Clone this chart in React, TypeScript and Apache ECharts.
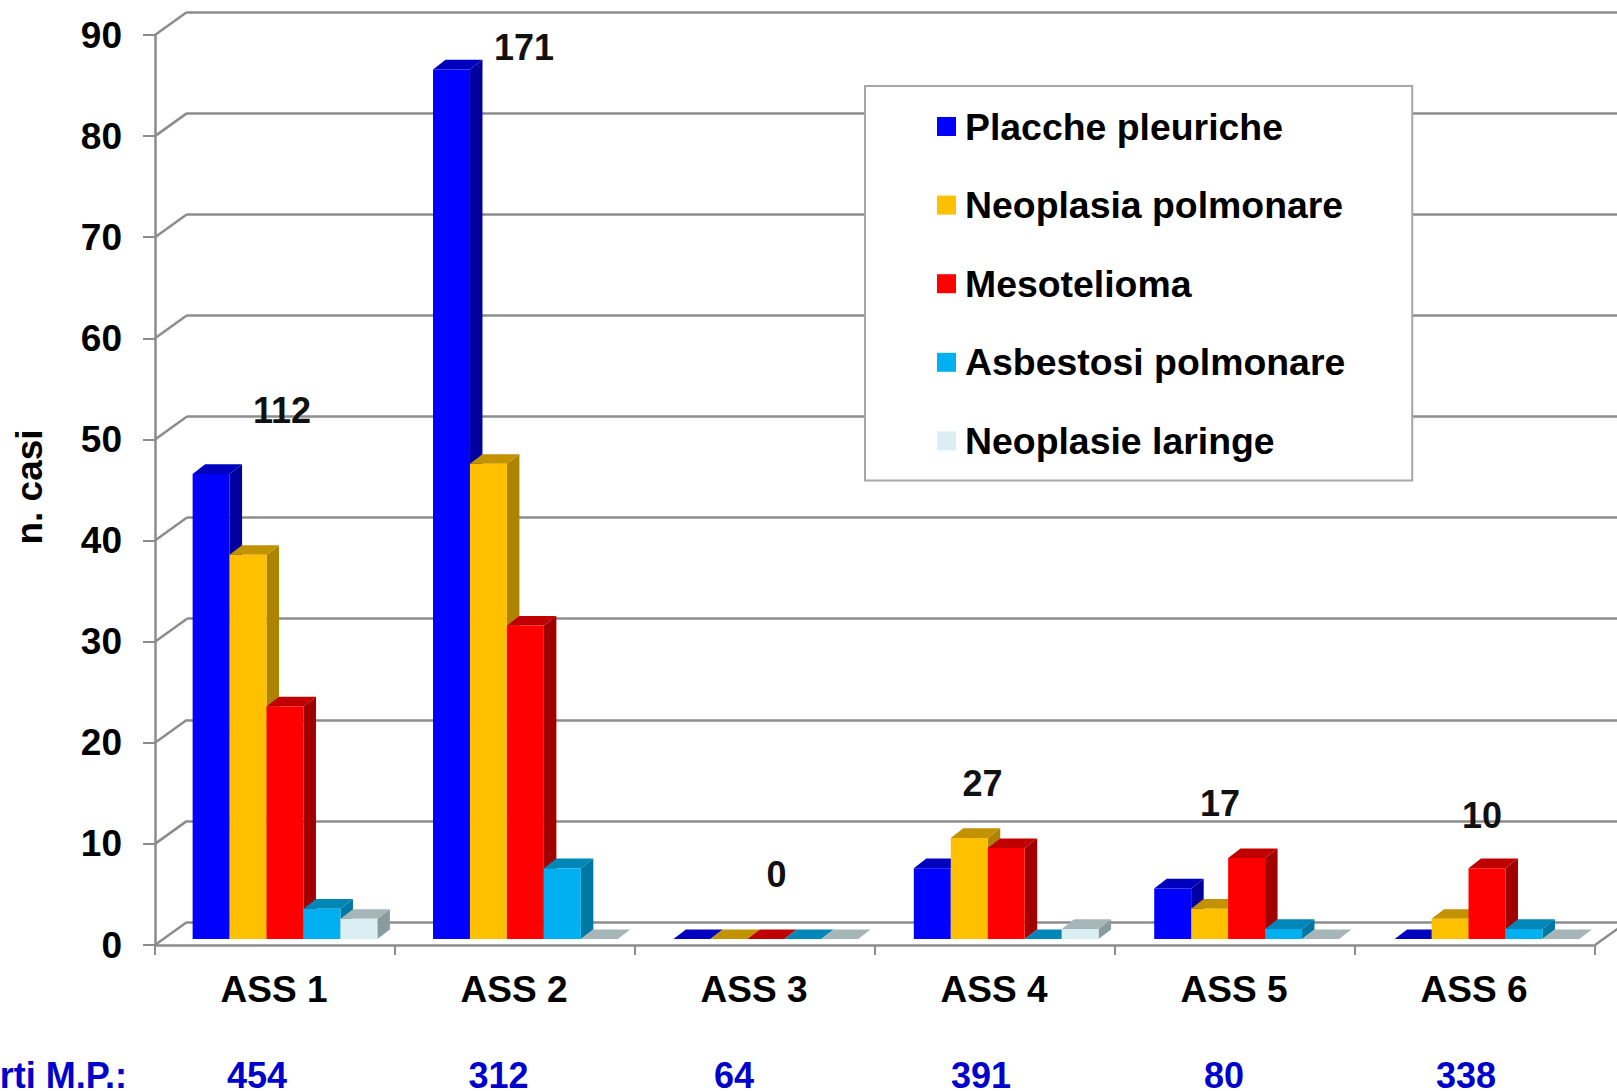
import React, { useEffect, useRef } from "react";
import * as echarts from "echarts";

const categories = ["ASS 1", "ASS 2", "ASS 3", "ASS 4", "ASS 5", "ASS 6"];
const placchePleuriche = [46, 86, 0, 7, 5, 0];
const neoplasiaPolmonare = [38, 47, 0, 10, 3, 2];
const mesotelioma = [23, 31, 0, 9, 8, 7];
const asbestosiPolmonare = [3, 7, 0, 0, 1, 1];
const neoplasieLaringe = [2, 0, 0, 1, 0, 0];
const totals = ["112", "171", "0", "27", "17", "10"];
const refertiLabel = "rti M.P.:";
const referti = ["454", "312", "64", "391", "80", "338"];
const yTicks = [0, 10, 20, 30, 40, 50, 60, 70, 80, 90];

const FONT = '"Liberation Sans", Arial, sans-serif';
const GRID = "#8c8c8c";

const seriesDefs = [
  { name: "Placche pleuriche", data: placchePleuriche, front: "#0000ff", side: "#00009f", top: "#0000bf" },
  { name: "Neoplasia polmonare", data: neoplasiaPolmonare, front: "#ffc000", side: "#ae8300", top: "#c29200" },
  { name: "Mesotelioma", data: mesotelioma, front: "#ff0000", side: "#a00000", top: "#c00000" },
  { name: "Asbestosi polmonare", data: asbestosiPolmonare, front: "#00b0f0", side: "#0078a4", top: "#0086b7" },
  { name: "Neoplasie laringe", data: neoplasieLaringe, front: "#daeef3", side: "#8a9a9d", top: "#a6b5b7" },
];

const DEPTH_X = 12.5;
const DEPTH_Y = 9.6;
const BAR_SHARE = 0.1537;

function bar3d(index: number, def: (typeof seriesDefs)[number]) {
  return (_: any, api: any) => {
    const cat = api.value(0);
    const val = api.value(1);
    const [cx, yTop] = api.coord([cat, val]);
    const [, yBase] = api.coord([cat, 0]);
    const w = api.size([1, 0])[0] * BAR_SHARE;
    const x0 = cx + (index - 2.5) * w;
    const x1 = x0 + w;
    const children: any[] = [];
    if (yBase - yTop > 0.01) {
      children.push({
        type: "polygon",
        shape: { points: [[x1, yTop], [x1 + DEPTH_X, yTop - DEPTH_Y], [x1 + DEPTH_X, yBase - DEPTH_Y], [x1, yBase]] },
        style: { fill: def.side },
      });
    }
    children.push({
      type: "polygon",
      shape: { points: [[x0, yTop], [x0 + DEPTH_X, yTop - DEPTH_Y], [x1 + DEPTH_X, yTop - DEPTH_Y], [x1, yTop]] },
      style: { fill: def.top },
    });
    if (yBase - yTop > 0.01) {
      children.push({
        type: "rect",
        shape: { x: x0, y: yTop, width: w, height: yBase - yTop },
        style: { fill: def.front },
      });
    }
    return { type: "group", children };
  };
}

function textEl(text: string, x: number, y: number, fill: string, align = "center") {
  return {
    type: "text",
    x,
    y,
    z: 20,
    style: { text, fill, font: `bold 36px ${FONT}`, lineHeight: 30, textAlign: align, textVerticalAlign: "middle" },
  };
}

const totalX = [282, 524, 776.5, 982.5, 1220, 1482];
const totalY = [410, 47, 874, 783, 803, 815];
const refertiX = [257, 498.5, 734, 981, 1224, 1466];

export default function App() {
  const ref = useRef<HTMLDivElement>(null);
  useEffect(() => {
    document.body.style.margin = "0";
    document.body.style.overflow = "hidden";
    const chart = echarts.init(ref.current!, undefined, { renderer: "svg" });
    const hiddenX = { type: "category", data: categories, show: false };
    const hiddenY = { type: "value", min: 0, max: 90, interval: 10, show: false };
    const option: any = {
      animation: false,
      backgroundColor: "#ffffff",
      grid: [
        { left: 155, top: 35, width: 1440, height: 910, outerBoundsMode: "none" },
        { left: 187, top: 12, width: 1440, height: 910, outerBoundsMode: "none" },
        { left: 164.8, top: 29, width: 1442.4, height: 910, outerBoundsMode: "none" },
      ],
      xAxis: [
        {
          type: "category",
          gridIndex: 0,
          data: categories,
          axisLine: { show: true, lineStyle: { color: GRID, width: 2.5 } },
          axisTick: { show: true, length: 10, interval: 0, lineStyle: { color: GRID, width: 2 } },
          axisLabel: {
            interval: 0,
            margin: 26,
            color: "#000",
            fontFamily: FONT,
            fontWeight: "bold",
            fontSize: 37,
            padding: [0, 2, 0, 0],
          },
        },
        { ...hiddenX, gridIndex: 1 },
        { ...hiddenX, gridIndex: 2 },
      ],
      yAxis: [
        {
          type: "value",
          gridIndex: 0,
          min: 0,
          max: 90,
          interval: 10,
          name: "n. casi",
          nameLocation: "middle",
          nameGap: 107,
          nameTextStyle: { color: "#000", fontFamily: FONT, fontWeight: "bold", fontSize: 37, padding: [0, 0, 0, 6] },
          axisLine: { show: true, lineStyle: { color: GRID, width: 2.5 } },
          axisTick: { show: true, length: 12, lineStyle: { color: GRID, width: 2 } },
          splitLine: { show: false },
          axisLabel: {
            margin: 33,
            color: "#000",
            fontFamily: FONT,
            fontWeight: "bold",
            fontSize: 37,
          },
        },
        {
          type: "value",
          gridIndex: 1,
          min: 0,
          max: 90,
          interval: 10,
          axisLine: { show: false },
          axisTick: { show: false },
          axisLabel: { show: false },
          splitLine: { show: true, lineStyle: { color: GRID, width: 2.5 } },
        },
        { ...hiddenY, gridIndex: 2 },
      ],
      legend: {
        show: true,
        orient: "vertical",
        left: 865,
        top: 86,
        padding: [22, 67, 21, 72],
        itemWidth: 19,
        itemHeight: 19,
        itemGap: 41.6,
        icon: "rect",
        backgroundColor: "#ffffff",
        borderColor: "#a6a6a6",
        borderWidth: 2,
        z: 10,
        textStyle: {
          color: "#000",
          fontFamily: FONT,
          fontWeight: "bold",
          fontSize: 37.4,
          padding: [0, 0, 0, 4],
        },
        data: seriesDefs.map((d) => d.name),
      },
      graphic: [
        ...totals.map((t, i) => textEl(t, totalX[i], totalY[i], "#111111")),
        textEl(refertiLabel, 127, 1075, "#0000cc", "right"),
        ...referti.map((t, i) => textEl(t, refertiX[i], 1075, "#0000cc")),
      ],
      series: [
        {
          type: "custom",
          name: "wall",
          xAxisIndex: 0,
          yAxisIndex: 0,
          silent: true,
          clip: false,
          z: 1,
          data: yTicks.map((v) => [0, v]),
          renderItem: (_: any, api: any) => {
            const [cx, y] = api.coord([0, api.value(1)]);
            const half = api.size([1, 0])[0] / 2;
            const x = cx - half;
            const segs: any[] = [
              {
                type: "line",
                shape: { x1: x, y1: y, x2: x + 32, y2: y - 23 },
                style: { stroke: GRID, lineWidth: 2.5 },
              },
            ];
            if (api.value(1) === 0) {
              const xr = x + half * 2 * categories.length;
              segs.push({
                type: "line",
                shape: { x1: xr, y1: y, x2: xr + 32, y2: y - 23 },
                style: { stroke: GRID, lineWidth: 2.5 },
              });
            }
            return { type: "group", children: segs };
          },
        },
        ...seriesDefs.map((d, i) => ({
          type: "custom",
          name: d.name,
          xAxisIndex: 2,
          yAxisIndex: 2,
          clip: false,
          z: 5,
          itemStyle: { color: d.front },
          encode: { x: 0, y: 1 },
          data: d.data.map((v, c) => [c, v]),
          renderItem: bar3d(i, d),
        })),
      ],
    };
    chart.setOption(option);
    return () => chart.dispose();
  }, []);
  return <div ref={ref} style={{ position: "fixed", left: 0, top: 0, width: 1617, height: 1091 }} />;
}
